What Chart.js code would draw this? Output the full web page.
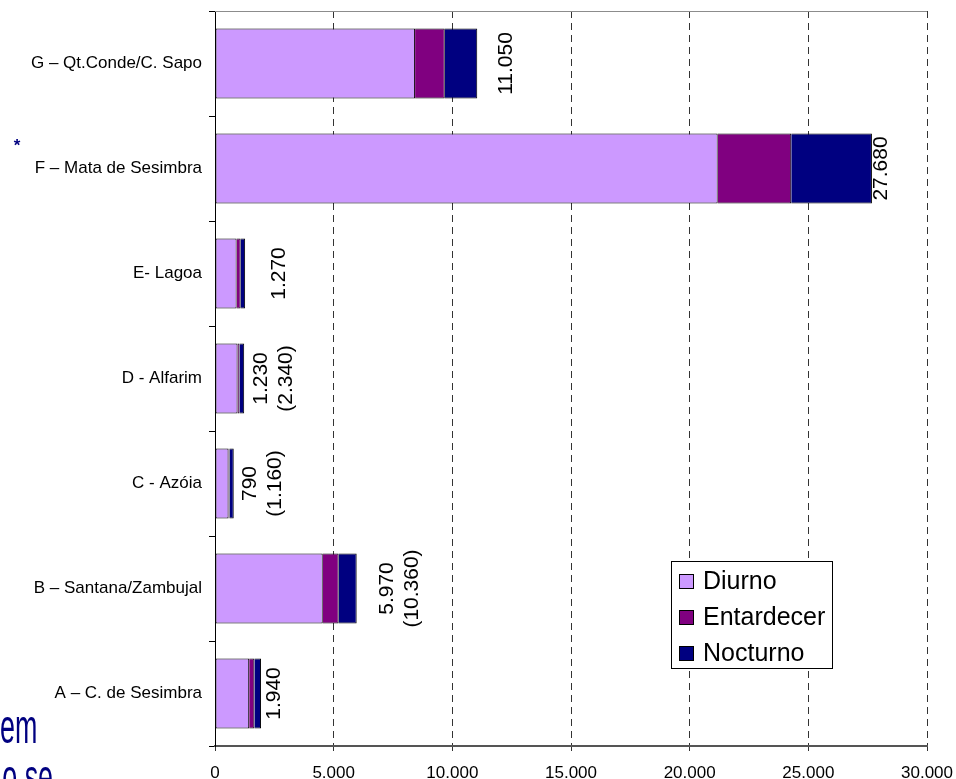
<!DOCTYPE html>
<html>
<head>
<meta charset="utf-8">
<script src="https://cdn.jsdelivr.net/npm/chart.js@4/dist/chart.umd.min.js"></script>
<style>
  html, body { margin: 0; padding: 0; background: #fff; overflow: hidden; }
  #wrap { width: 956px; height: 779px; position: relative; }
</style>
</head>
<body>
<div id="wrap"><canvas id="c" width="956" height="779"></canvas></div>
<script>
// Zones (top to bottom)
const categories = [
  'G \u2013 Qt.Conde/C. Sapo',
  'F \u2013 Mata de Sesimbra',
  'E- Lagoa',
  'D - Alfarim',
  'C - Az\u00f3ia',
  'B \u2013 Santana/Zambujal',
  'A \u2013 C. de Sesimbra'
];

// Counts per period of the day
const seriesNames = ['Diurno', 'Entardecer', 'Nocturno'];
const diurno     = [8430, 21180, 910, 950, 570, 4540, 1440];
const entardecer = [1250,  3100, 170,  80,  40,  670,  220];
const nocturno   = [1370,  3400, 190, 200, 180,  760,  280];

// Alternative totals shown in brackets under some zones
const altTotals = [null, null, null, 2340, 1160, 10360, null];

// Horizontal axis ticks
const xTickValues = [0, 5000, 10000, 15000, 20000, 25000, 30000];
const xTickLabels = ['0', '5.000', '10.000', '15.000', '20.000', '25.000', '30.000'];

const seriesColors = ['#CC99FF', '#800080', '#000080'];
const FONT = "'Liberation Sans', Arial, sans-serif";

function fmt(v) {
  return String(v).replace(/\B(?=(\d{3})+(?!\d))/g, '.');
}

// Total labels written vertically to the right of each bar
const totalLabels = {
  id: 'totalLabels',
  afterDatasetsDraw(chart, args, opts) {
    const ctx = chart.ctx;
    const xs = chart.scales.x, ys = chart.scales.y;
    ctx.save();
    ctx.font = '21px ' + FONT;
    ctx.fillStyle = '#000';
    ctx.textAlign = 'center';
    ctx.textBaseline = 'middle';
    categories.forEach((_, i) => {
      const total = chart.data.datasets.reduce((s, d) => s + d.data[i], 0);
      const lines = [fmt(total)];
      if (altTotals[i] != null) lines.push('(' + fmt(altTotals[i]) + ')');
      const x = xs.getPixelForValue(total) + opts.gaps[i];
      const y = ys.getPixelForValue(i);
      ctx.save();
      ctx.translate(x, y);
      ctx.rotate(-Math.PI / 2);
      lines.forEach((t, j) => ctx.fillText(t, 0, j * opts.lineStep));
      ctx.restore();
    });
    ctx.restore();
  }
};

// Boxed legend inside the plot, plus plot top edge
const boxLegend = {
  id: 'boxLegend',
  afterDraw(chart, args, opts) {
    const ctx = chart.ctx;
    const a = chart.chartArea;
    ctx.save();
    // top edge of the plot frame
    ctx.strokeStyle = '#8c8c8c';
    ctx.lineWidth = 1;
    ctx.beginPath();
    ctx.moveTo(a.left, Math.round(a.top) + 0.5);
    ctx.lineTo(a.right, Math.round(a.top) + 0.5);
    ctx.stroke();

    const L = a.left + opts.dx, T = a.top + opts.dy;
    ctx.fillStyle = '#fff';
    ctx.fillRect(L, T, opts.w, opts.h);
    ctx.strokeStyle = '#000';
    ctx.strokeRect(L + 0.5, T + 0.5, opts.w, opts.h);
    ctx.font = '25px ' + FONT;
    ctx.textAlign = 'left';
    ctx.textBaseline = 'middle';
    chart.data.datasets.forEach((d, i) => {
      const cy = T + 20 + i * 36;
      ctx.fillStyle = d.backgroundColor;
      ctx.fillRect(L + 8, cy - 7, 15, 15);
      ctx.strokeStyle = '#000';
      ctx.strokeRect(L + 8.5, cy - 6.5, 14, 14);
      ctx.fillStyle = '#000';
      ctx.fillText(d.label, L + 32, cy + 1);
    });
    ctx.restore();
  }
};

// Slide text showing around the chart
const slideText = {
  id: 'slideText',
  afterDraw(chart) {
    const ctx = chart.ctx;
    ctx.save();
    ctx.fillStyle = '#000080';
    ctx.font = 'bold 17px ' + FONT;
    ctx.textAlign = 'center';
    ctx.textBaseline = 'middle';
    ctx.fillText('*', 17, 146);
    ctx.textAlign = 'left';
    ctx.textBaseline = 'alphabetic';
    ctx.font = '48px ' + FONT;
    ctx.save();
    ctx.translate(0, 743);
    ctx.scale(0.56, 1);
    ctx.fillText('em', 0, 0);
    ctx.restore();
    ctx.save();
    ctx.translate(0, 793);
    ctx.scale(0.56, 1);
    ctx.fillText('o se', 4, 0);
    ctx.restore();
    ctx.restore();
  }
};

const datasets = [diurno, entardecer, nocturno].map((vals, k) => ({
  label: seriesNames[k],
  data: vals,
  backgroundColor: seriesColors[k],
  borderColor: '#000',
  borderWidth: 1,
  borderSkipped: k === 0 ? false : 'start',
  barPercentage: 0.667,
  categoryPercentage: 1
}));

new Chart(document.getElementById('c'), {
  type: 'bar',
  data: { labels: categories, datasets },
  plugins: [totalLabels, boxLegend, slideText],
  options: {
    indexAxis: 'y',
    responsive: false,
    animation: false,
    devicePixelRatio: 1,
    layout: { padding: { left: 0, top: 11, right: 29, bottom: 0 } },
    plugins: {
      legend: { display: false },
      tooltip: { enabled: false },
      totalLabels: { gaps: [29, 9, 34, 17, 16, 31, 13], lineStep: 25 },
      boxLegend: { dx: 456, dy: 550, w: 161, h: 107 }
    },
    scales: {
      x: {
        type: 'linear',
        stacked: true,
        min: 0,
        max: 30000,
        afterBuildTicks: s => { s.ticks = xTickValues.map(v => ({ value: v })); },
        afterFit: s => {
          s.height = 33;
          s.paddingLeft = 0; s.paddingRight = 0;
        },
        ticks: {
          callback: (v, i) => xTickLabels[i],
          font: { family: FONT, size: 17 },
          color: '#000',
          padding: 12,
          maxRotation: 0,
          autoSkip: false
        },
        grid: {
          color: '#333',
          lineWidth: 1,
          drawTicks: true,
          tickLength: 5,
          tickColor: '#333',
          tickBorderDash: []
        },
        border: { display: true, color: '#555', width: 2, dash: [7, 5] }
      },
      y: {
        type: 'category',
        stacked: true,
        offset: true,
        afterFit: s => {
          s.width = 215;
          s.paddingTop = 0; s.paddingBottom = 0;
        },
        ticks: {
          font: { family: FONT, size: 17 },
          color: '#000',
          padding: 7
        },
        grid: {
          offset: true,
          drawOnChartArea: false,
          drawTicks: true,
          tickLength: 6,
          color: '#000',
          tickColor: '#000'
        },
        border: { display: true, color: '#000', width: 1 }
      }
    }
  }
});
</script>
</body>
</html>
